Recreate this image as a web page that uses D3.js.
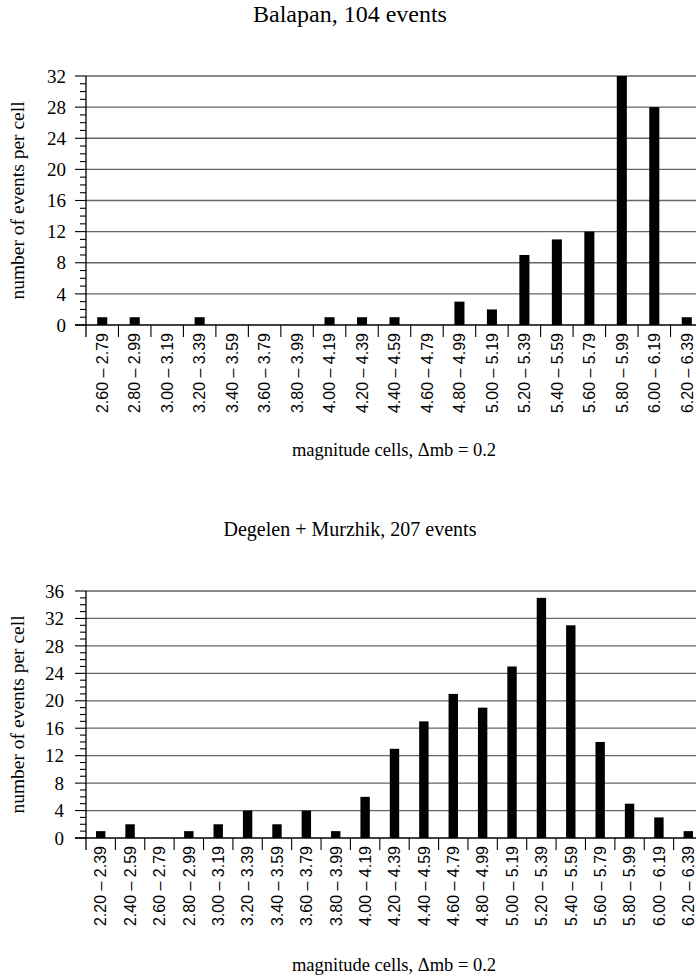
<!DOCTYPE html>
<html>
<head>
<meta charset="utf-8">
<script src="https://cdn.jsdelivr.net/npm/d3@7"></script>
<style>
  html, body { margin: 0; padding: 0; background: #fff; }
  svg { display: block; }
  text { font-family: "Liberation Serif", "Times New Roman", serif; fill: #000; }
  text.xlab { font-family: "Liberation Sans", Arial, sans-serif; }
</style>
</head>
<body>
<svg id="chart" width="696" height="977"></svg>
<script>
// ---------- Data ----------
const topTitle = "Balapan, 104 events";
const topCategories = ["2.60 – 2.79","2.80 – 2.99","3.00 – 3.19","3.20 – 3.39","3.40 – 3.59","3.60 – 3.79","3.80 – 3.99","4.00 – 4.19","4.20 – 4.39","4.40 – 4.59","4.60 – 4.79","4.80 – 4.99","5.00 – 5.19","5.20 – 5.39","5.40 – 5.59","5.60 – 5.79","5.80 – 5.99","6.00 – 6.19","6.20 – 6.39"];
const topValues = [1,1,0,1,0,0,0,1,1,1,0,3,2,9,11,12,32,28,1];
const topYTicks = [0,4,8,12,16,20,24,28,32];

const bottomTitle = "Degelen + Murzhik, 207 events";
const bottomCategories = ["2.20 – 2.39","2.40 – 2.59","2.60 – 2.79","2.80 – 2.99","3.00 – 3.19","3.20 – 3.39","3.40 – 3.59","3.60 – 3.79","3.80 – 3.99","4.00 – 4.19","4.20 – 4.39","4.40 – 4.59","4.60 – 4.79","4.80 – 4.99","5.00 – 5.19","5.20 – 5.39","5.40 – 5.59","5.60 – 5.79","5.80 – 5.99","6.00 – 6.19","6.20 – 6.39"];
const bottomValues = [1,2,0,1,2,4,2,4,1,6,13,17,21,19,25,35,31,14,5,3,1];
const bottomYTicks = [0,4,8,12,16,20,24,28,32,36];

const xTitle = "magnitude cells, Δmb = 0.2";
const yTitle = "number of events per cell";

// ---------- Drawing ----------
const svg = d3.select("#chart");

function drawPanel(cfg) {
  const g = svg.append("g");
  const x = d3.scaleBand().domain(cfg.categories).range([cfg.x0, cfg.x1]).padding(0);
  const yMax = cfg.yTicks[cfg.yTicks.length - 1];
  const y = d3.scaleLinear().domain([0, yMax]).range([cfg.yBottom, cfg.yTop]);
  const barFrac = cfg.barFrac;

  // gridlines
  g.selectAll("line.grid").data(cfg.yTicks.filter(d => d > 0)).join("line")
    .attr("x1", cfg.x0).attr("x2", 696)
    .attr("y1", d => y(d)).attr("y2", d => y(d))
    .attr("stroke", "#666").attr("stroke-width", 1.3);

  // minor & major ticks on y axis
  const minor = d3.range(0, yMax + 1, 1);
  g.selectAll("line.ytick").data(minor).join("line")
    .attr("x1", d => cfg.yTicks.includes(d) ? cfg.x0 - 11 : cfg.x0 - 6)
    .attr("x2", cfg.x0)
    .attr("y1", d => y(d)).attr("y2", d => y(d))
    .attr("stroke", "#000").attr("stroke-width", 1.1);

  // y tick labels
  g.selectAll("text.ylab").data(cfg.yTicks).join("text")
    .attr("x", cfg.yLabelX).attr("y", d => y(d))
    .attr("dy", "0.35em").attr("text-anchor", "end")
    .style("font-size", "19px")
    .text(d => d);

  // bars
  g.selectAll("rect.bar").data(cfg.categories).join("rect")
    .attr("x", (c) => x(c) + x.bandwidth() * (1 - barFrac) / 2)
    .attr("width", x.bandwidth() * barFrac)
    .attr("y", (c, i) => y(cfg.values[i]))
    .attr("height", (c, i) => y(0) - y(cfg.values[i]))
    .attr("fill", "#000");

  // baseline
  g.append("line")
    .attr("x1", cfg.x0 - 11).attr("x2", 696)
    .attr("y1", y(0)).attr("y2", y(0))
    .attr("stroke", "#000").attr("stroke-width", 1.3);

  // y axis line (extends below baseline)
  g.append("line")
    .attr("x1", cfg.x0).attr("x2", cfg.x0)
    .attr("y1", y(yMax)).attr("y2", y(0) + 12)
    .attr("stroke", "#000").attr("stroke-width", 1.3);

  // category separators
  g.selectAll("line.sep").data(cfg.categories.slice(1).concat(["__end"])).join("line")
    .attr("x1", c => c === "__end" ? cfg.x1 : x(c))
    .attr("x2", c => c === "__end" ? cfg.x1 : x(c))
    .attr("y1", y(0)).attr("y2", y(0) + 12)
    .attr("stroke", "#000").attr("stroke-width", 1.1);

  // category labels
  g.selectAll("text.xlab").data(cfg.categories).join("text")
    .attr("class", "xlab")
    .attr("transform", c => `translate(${x(c) + x.bandwidth() / 2},${y(0) + 8}) rotate(-90)`)
    .attr("dy", "0.36em").attr("text-anchor", "end")
    .style("font-size", "16px")
    .text(c => c);

  // titles
  g.append("text")
    .attr("x", 350).attr("y", cfg.titleY)
    .attr("text-anchor", "middle").style("font-size", cfg.titleSize)
    .text(cfg.title);

  g.append("text")
    .attr("x", 394).attr("y", cfg.xTitleY)
    .attr("text-anchor", "middle").style("font-size", "18.5px")
    .text(xTitle);

  g.append("text")
    .attr("transform", `translate(24,${(y(0) + y(yMax)) / 2}) rotate(-90)`)
    .attr("text-anchor", "middle").style("font-size", "19.5px")
    .text(yTitle);
}

drawPanel({
  categories: topCategories, values: topValues, yTicks: topYTicks,
  x0: 86, x1: 703, yTop: 76, yBottom: 325, barFrac: 0.31,
  yLabelX: 66, title: topTitle, titleSize: "24px", titleY: 22, xTitleY: 456
});

drawPanel({
  categories: bottomCategories, values: bottomValues, yTicks: bottomYTicks,
  x0: 86, x1: 703, yTop: 591, yBottom: 838, barFrac: 0.32,
  yLabelX: 64, title: bottomTitle, titleSize: "20px", titleY: 536, xTitleY: 971
});
</script>
</body>
</html>
